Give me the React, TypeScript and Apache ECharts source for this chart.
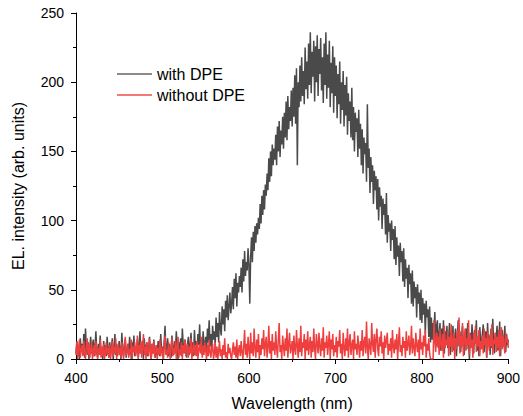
import React, { useEffect, useRef } from "react";
import * as echarts from "echarts";

const startNm = 400;
const stepNm = 1;

// EL intensity with DPE, 400..900 nm, 1 nm step (rows of 10 nm)
const withDPE = [
  4, 13, 2, 9, 0, 15, 6, 11, 3, 18,
  1, 22, 7, 3, 12, 0, 8, 16, 4, 10,
  14, 2, 9, 20, 5, 1, 11, 6, 17, 3,
  8, 0, 13, 5, 10, 2, 16, 7, 1, 12,
  4, 9, 15, 0, 6, 18, 3, 11, 2, 8,
  13, 5, 0, 19, 7, 2, 10, 14, 1, 6,
  11, 3, 16, 8, 0, 12, 5, 17, 2, 9,
  6, 14, 1, 10, 20, 4, 8, 13, 0, 15,
  3, 9, 12, 2, 7, 16, 5, 0, 11, 4,
  14, 6, 1, 10, 3, 13, 8, 2, 18, 5,
  9, 0, 12, 24, 4, 7, 15, 2, 11, 6,
  1, 17, 8, 3, 13, 5, 20, 9, 0, 12,
  6, 15, 2, 22, 10, 4, 14, 7, 1, 11,
  16, 3, 9, 19, 5, 12, 2, 21, 8, 13,
  4, 18, 10, 25, 6, 14, 3, 20, 11, 7,
  16, 5, 22, 12, 28, 9, 18, 6, 24, 14,
  20, 10, 30, 16, 26, 12, 34, 22, 17, 38,
  25, 36, 20, 42, 30, 46, 28, 38, 48, 33,
  40, 52, 36, 58, 44, 62, 38, 55, 48, 60,
  52, 66, 48, 72, 56, 78, 60, 70, 64, 80,
  68, 40, 74, 88, 70, 92, 78, 96, 84, 98,
  90, 102, 94, 112, 98, 118, 104, 122, 108, 126,
  118, 134, 122, 145, 128, 150, 132, 155, 140, 152,
  144, 162, 140, 168, 150, 172, 146, 165, 155, 175,
  152, 178, 160, 186, 158, 190, 166, 182, 172, 194,
  168, 196, 175, 205, 170, 210, 140, 200, 182, 212,
  186, 218, 190, 208, 184, 225, 195, 215, 188, 228,
  198, 236, 192, 222, 204, 230, 186, 226, 200, 234,
  190, 224, 206, 232, 194, 218, 185, 228, 198, 236,
  188, 220, 196, 230, 182, 214, 192, 226, 178, 218,
  190, 212, 174, 206, 184, 215, 170, 200, 180, 208,
  168, 198, 176, 204, 162, 192, 172, 186, 160, 196,
  158, 182, 150, 178, 164, 174, 146, 180, 152, 170,
  140, 166, 134, 160, 148, 156, 128, 184, 138, 152,
  120, 146, 128, 140, 112, 136, 122, 132, 108, 130,
  100, 124, 110, 118, 94, 116, 104, 112, 90, 120,
  84, 104, 92, 98, 78, 100, 86, 94, 72, 96,
  68, 88, 74, 82, 60, 84, 70, 78, 56, 80,
  52, 72, 58, 66, 44, 68, 54, 62, 40, 64,
  38, 56, 44, 52, 30, 54, 40, 48, 28, 50,
  26, 44, 32, 40, 18, 42, 30, 36, 16, 38,
  12, 30, 14, 26, 20, 34, 10, 24, 28, 8,
  18, 26, 6, 22, 14, 28, 4, 20, 12, 24,
  8, 16, 26, 3, 19, 10, 24, 6, 15, 22,
  2, 14, 28, 9, 20, 5, 17, 24, 11, 3,
  16, 22, 7, 26, 12, 0, 19, 9, 25, 14,
  4, 21, 11, 28, 6, 16, 2, 23, 13, 8,
  18, 25, 5, 14, 20, 1, 26, 10, 17, 3,
  22, 8, 29, 12, 4, 19, 15, 24, 6, 11,
  27, 2, 16, 21, 9, 13, 24, 5, 18, 10,
  14,
];

// EL intensity without DPE, 400..900 nm, 1 nm step
const withoutDPE = [
  3, 12, 0, 8, 14, 1, 6, 10, 2, 13,
  5, 0, 9, 15, 3, 11, 1, 7, 12, 0,
  4, 10, 2, 13, 6, 0, 8, 3, 14, 1,
  9, 2, 11, 0, 5, 12, 3, 8, 1, 10,
  0, 6, 13, 2, 9, 4, 15, 0, 7, 11,
  3, 8, 1, 12, 5, 0, 10, 16, 2, 6,
  11, 1, 7, 3, 14, 0, 9, 5, 12, 2,
  6, 17, 0, 10, 4, 13, 1, 8, 18, 3,
  9, 0, 12, 5, 2, 15, 7, 0, 11, 4,
  13, 1, 6, 10, 0, 8, 3, 14, 2, 9,
  5, 0, 11, 17, 3, 7, 1, 12, 6, 0,
  10, 15, 2, 8, 4, 13, 0, 9, 16, 1,
  7, 3, 12, 0, 10, 5, 14, 2, 8, 11,
  1, 9, 4, 15, 0, 6, 12, 3, 10, 2,
  13, 0, 7, 11, 4, 16, 1, 9, 3, 12,
  6, 0, 10, 2, 14, 5, 1, 8, 11, 0,
  4, 12, 1, 9, 0, 6, 13, 2, 7, 0,
  10, 3, 15, 1, 5, 0, 11, 4, 8, 2,
  0, 7, 12, 3, 9, 1, 14, 0, 6, 10,
  2, 13, 5, 0, 9, 21, 3, 11, 1, 16,
  7, 0, 19, 4, 12, 2, 22, 8, 1, 14,
  5, 18, 0, 10, 3, 15, 7, 21, 2, 11,
  16, 1, 9, 24, 4, 13, 0, 18, 6, 12,
  3, 20, 8, 1, 14, 26, 5, 10, 0, 17,
  9, 2, 15, 6, 22, 1, 11, 19, 4, 8,
  13, 0, 17, 7, 3, 21, 10, 1, 15, 5,
  24, 2, 12, 8, 18, 0, 14, 6, 20, 3,
  10, 16, 1, 13, 5, 22, 7, 0, 18, 11,
  4, 19, 9, 2, 15, 6, 23, 1, 12, 8,
  17, 3, 11, 20, 0, 14, 7, 18, 2, 10,
  5, 16, 1, 13, 9, 21, 4, 11, 0, 19,
  8, 2, 15, 6, 22, 1, 12, 18, 3, 10,
  14, 0, 20, 7, 11, 3, 17, 9, 1, 13,
  6, 21, 2, 12, 16, 4, 27, 8, 0, 15,
  10, 3, 26, 11, 5, 18, 1, 14, 22, 7,
  2, 16, 9, 20, 4, 12, 0, 17, 8, 13,
  19, 3, 11, 6, 15, 1, 21, 9, 4, 14,
  7, 18, 0, 12, 23, 5, 10, 2, 16, 8,
  13, 1, 20, 6, 11, 17, 3, 9, 24, 4,
  15, 8, 2, 19, 10, 5, 14, 0, 22, 7,
  12, 3, 17, 9, 21, 1, 11, 6, 15, 4,
  0, 0, 0, 0, 28, 13, 5, 19, 9, 16,
  3, 22, 11, 6, 18, 1, 24, 8, 14, 10,
  20, 2, 16, 9, 25, 5, 12, 19, 0, 15,
  7, 21, 11, 30, 4, 17, 9, 26, 2, 13,
  22, 6, 15, 10, 28, 3, 18, 8, 14, 1,
  19, 11, 24, 5, 16, 9, 21, 2, 13, 7,
  17, 4, 22, 10, 15, 1, 20, 12, 6, 18,
  9, 25, 3, 14, 11, 19, 5, 16, 8, 21,
  2, 13, 23, 7, 17, 10, 4, 19, 12, 15,
  8,
];

const seriesNames = ["with DPE", "without DPE"];
const xTitle = "Wavelength (nm)";
const yTitle = "EL. intensity (arb. units)";

const toPairs = (arr: number[]) => arr.map((v, i) => [startNm + i * stepNm, v]);

export default function App() {
  const ref = useRef<HTMLDivElement>(null);
  useEffect(() => {
    if (!ref.current) return;
    const chart = echarts.init(ref.current, null, { renderer: "svg" });
    const font = "Arial, 'Liberation Sans', sans-serif";
    const axisCommon = {
      axisLine: { show: true, lineStyle: { color: "#000", width: 1 } },
      axisTick: { show: true, inside: false, length: 5, lineStyle: { color: "#000" } },
      minorTick: { show: true, splitNumber: 2, length: 3, lineStyle: { color: "#000" } },
      splitLine: { show: false },
      minorSplitLine: { show: false },
      axisLabel: { color: "#000", fontSize: 14, fontFamily: font },
      nameTextStyle: { color: "#000", fontSize: 16, fontFamily: font },
    };
    chart.setOption({
      animation: false,
      backgroundColor: "#fff",
      grid: { left: 76, right: 11, top: 13, bottom: 54, containLabel: false },
      legend: {
        orient: "vertical",
        left: 112,
        top: 61,
        icon: "rect",
        itemWidth: 35,
        itemHeight: 2,
        itemGap: 5,
        textStyle: { color: "#000", fontSize: 16, fontFamily: font, lineHeight: 16 },
        data: [
          { name: seriesNames[0], itemStyle: { color: "#8a8a8a" } },
          { name: seriesNames[1], itemStyle: { color: "#f47a7a" } },
        ],
      },
      xAxis: {
        type: "value",
        min: 400,
        max: 900,
        interval: 100,
        name: xTitle,
        nameLocation: "middle",
        nameGap: 36,
        ...axisCommon,
        axisLabel: { ...axisCommon.axisLabel, margin: 12 },
      },
      yAxis: {
        type: "value",
        min: 0,
        max: 250,
        interval: 50,
        name: yTitle,
        nameLocation: "middle",
        nameGap: 50,
        ...axisCommon,
        axisLabel: { ...axisCommon.axisLabel, margin: 12 },
      },
      series: [
        {
          name: seriesNames[0],
          type: "line",
          symbol: "none",
          data: toPairs(withDPE),
          lineStyle: { color: "#4a4a4a", width: 1.5 },
          itemStyle: { color: "#4a4a4a" },
        },
        {
          name: seriesNames[1],
          type: "line",
          symbol: "none",
          data: toPairs(withoutDPE),
          lineStyle: { color: "#ef3e3e", width: 1.5 },
          itemStyle: { color: "#ef3e3e" },
        },
      ],
    });
    return () => chart.dispose();
  }, []);
  return <div ref={ref} style={{ width: 523, height: 416, position: "absolute", left: 0, top: 0 }} />;
}
